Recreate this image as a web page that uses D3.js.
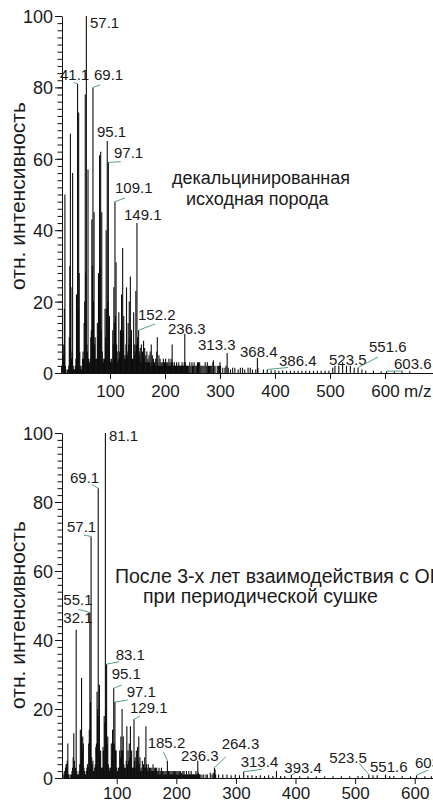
<!DOCTYPE html>
<html><head><meta charset="utf-8">
<script src="https://cdn.jsdelivr.net/npm/d3@7"></script>
<style>
html,body{margin:0;padding:0;background:#fff;overflow:hidden}
svg{display:block}
text{font-family:"Liberation Sans",Arial,Helvetica,sans-serif;fill:#1a1a1a}
</style></head><body>
<svg id="c" width="433" height="805"></svg>
<script>
// ---------------- DATA ----------------
// Top spectrum: decalcified parent rock. Intensities for consecutive integer m/z starting at topStartMz
const topStartMz = 12;
const topIntensity = [
  2,1,4,8,5,18,50,2,1,0,      // 12-21
  0,1,1,2,10,30,67,24,4,6,    // 22-31
  56,2,1,1,1,2,4,22,8,81,     // 32-41
  18,73,28,6,2,1,1,2,4,6,     // 42-51
  4,14,20,78,28,100,8,6,57,4, // 52-61
  2,3,4,10,12,43,30,80,20,45, // 62-71
  8,10,4,4,4,14,10,28,20,61,  // 72-81
  30,62,12,45,6,4,3,4,4,18,   // 82-91
  10,40,18,65,20,59,12,16,4,3,// 92-101
  3,4,3,12,8,24,14,48,16,31,  // 102-111
  8,6,3,4,17,6,4,12,8,22,     // 112-121
  12,35,12,16,4,5,4,8,24,6,   // 122-131
  5,14,8,20,10,27,8,12,3,4,   // 132-141
  4,17,5,8,6,23,8,42,10,8,    // 142-151
  12,6,5,7,3,8,3,6,4,9,       // 152-161
  4,7,3,5,3,6,3,4,3,5,        // 162-171
  3,6,2,8,3,5,2,4,2,3,        // 172-181
  2,4,2,6,10,3,2,5,2,4,       // 182-191
  2,3,2,3,2,4,2,3,2,4,        // 192-201
  2,3,2,3,2,4,2,3,2,4,        // 202-211
  3,8,3,2,2,3,2,2,2,3,        // 212-221
  2,2,2,3,2,2,2,2,2,3,        // 222-231
  2,2,2,3,11,3,2,2,2          // 232-240
];
const topTailMz = [241,243,245,247,249,250,252,253,255,257,259,260,261,263,265,267,269,271,273,275,277,279,281,283,285,287,288,289,291,295,297,299,300,301,305,309,311,313,315,319,323,327,333,337,341,345,351,355,359,365,368,369,379,386,393,400,407,414,421,428,435,442,449,456,463,470,477,484,491,498,505,509,516,523,530,537,544,551,558,565,579,593,603,617,631,645];
const topTailInt = [2,2,3,2,3,2,2,3,2,2,3,2,3,3,2,2,2,2,3,2,3,2,2,2,2,3,3.6,2,2,2,2,2,3,2,1.5,1.5,2,5.6,1.5,1,1.5,1.5,1,1.5,1.5,1,1.5,1.5,1,1,4.2,1.5,1,1,0.8,0.8,0.6,0.8,0.6,0.6,0.6,0.6,0.6,0.6,0.6,0.6,0.6,0.6,0.6,0.6,1.5,2,2,3,2,2,1.5,1.5,1,0.6,0.6,0.5,0.5,0.5,0.5,0.5];
const topLabelMz   = [57, 41, 69, 95, 97, 109, 149, 152, 236, 313, 368, 386, 523, 551, 603];
const topLabelText = ["57.1","41.1","69.1","95.1","97.1","109.1","149.1","152.2","236.3","313.3","368.4","386.4","523.5","551.6","603.6"];

// Bottom spectrum: after 3 years of interaction with OP with periodic drying
const botStartMz = 10;
const botIntensity = [
  1,0,2,1,3,4,4,5,10,1,       // 10-19
  1,0,0,1,1,2,3,6,13,5,       // 20-29
  2,3,43,2,1,1,1,2,4,14,      // 30-39
  5,29,8,12,10,3,2,1,1,2,     // 40-49
  3,4,3,10,14,48,22,70,6,4,   // 50-59
  5,2,2,3,4,9,10,25,20,84,    // 60-69
  18,27,6,8,3,3,3,9,8,18,     // 70-79
  16,100,20,33,10,12,4,3,2,3, // 80-89
  3,10,6,14,10,26,10,22,8,8,  // 90-99
  3,2,2,3,3,8,6,12,8,20,      // 100-109
  8,12,4,3,2,3,5,15,4,8,      // 110-119
  5,10,6,15,6,8,3,3,3,17,     // 120-129
  5,6,3,8,4,9,5,12,4,6,       // 130-139
  2,3,2,5,2,4,3,6,3,15,       // 140-149
  4,3,2,4,2,3,2,3,2,3,        // 150-159
  2,4,2,3,2,3,2,3,1,2,        // 160-169
  2,3,1,2,1,3,1,2,1,2,        // 170-179
  1,2,1,2,1,5,2,2,1,2,        // 180-189
  1,2,1,2,1,2,1,2,1,2,        // 190-199
  1,2,1,2,1,2,1,2,1,1.5,      // 200-209
  1,2,1,2,1,1,1,2,1,1,        // 210-219
  1,2,1,1,1,2,1,1,1,1,        // 220-229
  1,1,1,2,1,1,5,1.5,1,1,1     // 230-240
];
const botTailMz  = [243,246,250,252,257,260,262,264,265,266,271,278,285,292,299,306,313,320,327,334,341,348,355,362,368,375,382,393,407,421,435,449,463,477,491,505,512,523,530,537,551,558,565,579,593,603,617,628];
const botTailInt = [1,1,1,1,1.5,1,1.5,3,2.5,1,1,1,1,0.8,1,0.8,1.8,0.8,0.8,0.6,0.8,0.6,0.8,0.6,2,0.6,0.6,0.9,0.5,0.5,0.5,0.5,0.5,0.5,0.5,0.6,0.6,1,0.8,0.8,1,0.6,0.6,0.6,0.5,0.8,0.5,0.5];
const botLabelMz   = [81, 69, 57, 55, 32, 83, 95, 97, 129, 185, 236, 264, 313, 393, 523, 551, 603];
const botLabelText = ["81.1","69.1","57.1","55.1","32.1","83.1","95.1","97.1","129.1","185.2","236.3","264.3","313.4","393.4","523.5","551.6","603.6"];

const xTickValues = [100, 200, 300, 400, 500, 600];
const yMajorTicks = [0, 20, 40, 60, 80, 100];
const yAxisTitle = "отн. интенсивность";
const topTitle = ["декальцинированная", "исходная порода"];
const botTitle = ["После 3-х лет взаимодействия с ОП", "при периодической сушке"];

// ---------------- LAYOUT (pixel positions of annotation text / leader ends) ----------------
const topLabelLayout = [
  {tx:90, ty:28}, {tx:60, ty:80, lx:73.5, ly:82.5}, {tx:94, ty:80, lx:100, ly:85},
  {tx:97, ty:137}, {tx:114, ty:158, lx:120.7, ly:161.7}, {tx:115, ty:193, lx:125, ly:198},
  {tx:124, ty:220}, {tx:138, ty:320, lx:155, ly:324}, {tx:168, ty:334},
  {tx:198, ty:350}, {tx:240, ty:356.5}, {tx:279, ty:365.5, lx:288, ly:367.5},
  {tx:329, ty:365}, {tx:369, ty:351.5, lx:378, ly:357}, {tx:394, ty:368.5, lx:403, ly:371}
];
const botLabelLayout = [
  {tx:109, ty:441}, {tx:70, ty:483, lx:91.7, ly:484.3}, {tx:67, ty:531.7, lx:84, ly:535},
  {tx:63.3, ty:605, lx:78.3, ly:609.3}, {tx:63.3, ty:623.3}, {tx:115.7, ty:660, lx:119.3, ly:661.7},
  {tx:111.7, ty:679.3, lx:121.7, ly:685}, {tx:126.7, ty:697.3, lx:127.7, ly:700},
  {tx:130, ty:713.3, lx:140, ly:716}, {tx:147.7, ty:748.3, lx:163.3, ly:751.7},
  {tx:181, ty:760.5}, {tx:221.7, ty:749.3, lx:226, ly:756.7}, {tx:240.7, ty:766.7, lx:261.7, ly:769.3},
  {tx:284.3, ty:773.3, lx:295, ly:773.3}, {tx:329.3, ty:762.7, lx:359.3, ly:763.3},
  {tx:370, ty:771.7}, {tx:415, ty:768.3, lx:428.3, ly:770}
];

const svg = d3.select("#c");
const LEADER = "#5a9e84";

function drawPanel(o) {
  const g = svg.append("g");
  const x = d3.scaleLinear().domain(o.xDomain).range([62, 433]);
  const y = d3.scaleLinear().domain([0, 100]).range(o.yRange);

  const peaks = o.intensity.map((v, i) => ({mz: o.start + i, v}))
    .concat(o.tailMz.map((m, i) => ({mz: m, v: o.tailInt[i]})))
    .filter(d => d.v > 0);
  const lookup = new Map(peaks.map(d => [d.mz, d.v]));

  g.append("g").selectAll("line").data(peaks).join("line")
    .attr("x1", d => x(d.mz)).attr("x2", d => x(d.mz))
    .attr("y1", y(0)).attr("y2", d => y(d.v))
    .attr("stroke", "#0d0d0d").attr("stroke-width", 1.1);

  // axes
  const yMinor = d3.axisLeft(y).tickValues(d3.range(0, 101, 2)).tickSize(4.5).tickSizeOuter(0).tickFormat("");
  const yMajor = d3.axisLeft(y).tickValues(yMajorTicks).tickSize(7).tickSizeOuter(0).tickPadding(2);
  const ga1 = g.append("g").attr("transform", "translate(62,0)").call(yMinor);
  const ga2 = g.append("g").attr("transform", "translate(62,0)").call(yMajor);
  ga1.select(".domain").remove();
  ga2.selectAll("text").style("font-size", "18px").attr("dy", "0.36em");
  const xa = d3.axisBottom(x).tickValues(xTickValues).tickSize(6).tickSizeOuter(0);
  const gx = g.append("g").attr("transform", `translate(0,${y(0)})`).call(xa);
  gx.selectAll("text").style("font-size", "17px").attr("y", o.xLabelOffset).attr("dy", 0);
  [ga1, ga2, gx].forEach(a => {
    a.selectAll("path,line").attr("stroke", "#111").attr("stroke-width", 1);
  });

  // y title
  g.append("text").attr("transform", `translate(25,${o.yTitleY}) rotate(-90)`)
    .attr("text-anchor", "middle").style("font-size", "21px").text(yAxisTitle);

  // titles
  o.title.forEach((t, i) => {
    g.append("text").attr("x", o.titlePos[i][0]).attr("y", o.titlePos[i][1])
      .style("font-size", o.titleSize).text(t);
  });

  // labels
  o.labelMz.forEach((m, i) => {
    const L = o.layout[i];
    const v = lookup.get(m);
    if (L.lx !== undefined) {
      g.append("line").attr("x1", x(m)).attr("y1", y(v)).attr("x2", L.lx).attr("y2", L.ly)
        .attr("stroke", LEADER).attr("stroke-width", 1);
    }
    g.append("text").attr("x", L.tx).attr("y", L.ty).style("font-size", "15px").text(o.labelText[i]);
  });
  return g;
}

const gTop = drawPanel({
  start: topStartMz, intensity: topIntensity, tailMz: topTailMz, tailInt: topTailInt,
  labelMz: topLabelMz, labelText: topLabelText, layout: topLabelLayout,
  xDomain: [12.7, 687.3], yRange: [373, 16], xLabelOffset: 24, yTitleY: 196,
  title: topTitle, titlePos: [[172, 184], [186, 204.5]], titleSize: "18px"
});
gTop.append("text").attr("x", 404).attr("y", 397).style("font-size", "17px").text("m/z");

drawPanel({
  start: botStartMz, intensity: botIntensity, tailMz: botTailMz, tailInt: botTailInt,
  labelMz: botLabelMz, labelText: botLabelText, layout: botLabelLayout,
  xDomain: [8.2, 630.7], yRange: [778, 433], xLabelOffset: 21, yTitleY: 615,
  title: botTitle, titlePos: [[115, 583], [143, 603]], titleSize: "19.5px"
});
</script>
</body></html>
